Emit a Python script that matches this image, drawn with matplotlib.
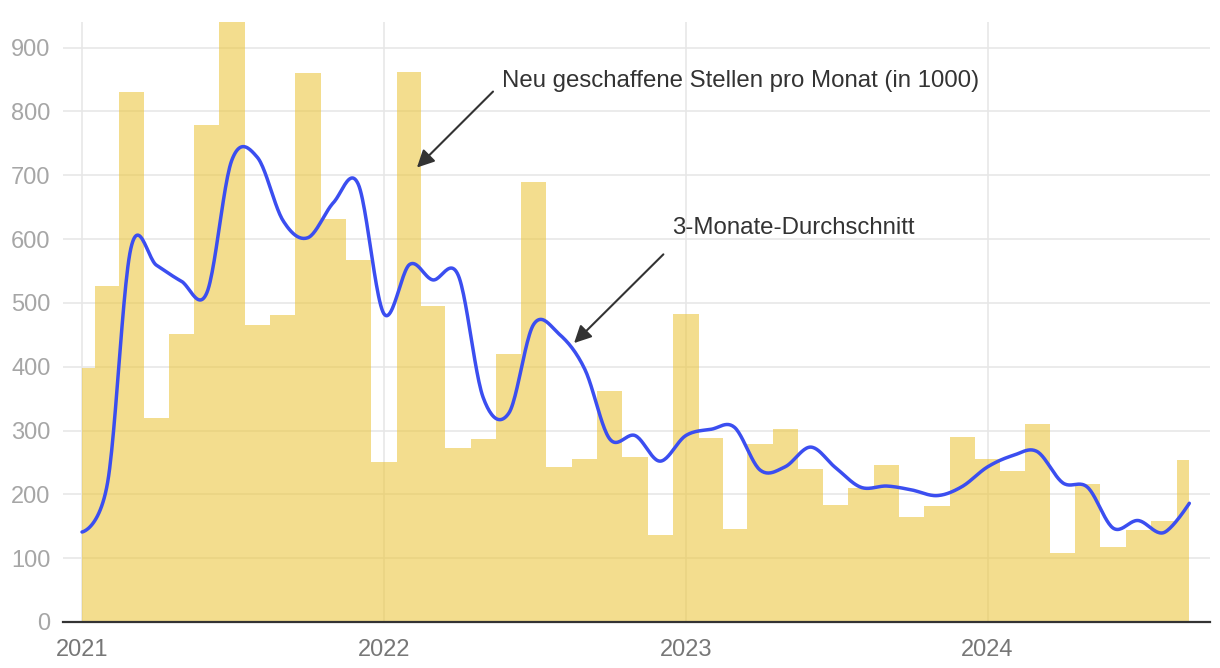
import numpy as np
import pandas as pd
import matplotlib.pyplot as plt
import matplotlib.dates as mdates

plt.rcParams['font.family'] = ['Liberation Sans', 'DejaVu Sans']

# Monatswerte Jan 2021 - Sep 2024 (in 1000)
months = pd.date_range('2021-01-01', '2024-09-01', freq='MS')
jobs = [398, 527, 831, 319, 451, 778, 940, 465, 481, 860, 631, 567,
        251, 862, 495, 273, 287, 420, 690, 243, 256, 362, 258, 136,
        482, 288, 146, 279, 303, 240, 184, 210, 246, 165, 182, 290,
        256, 236, 310, 108, 216, 118, 144, 159, 254]
# 3-Monate-Durchschnitt
avg3 = [141, 219, 585, 559, 534, 516, 723, 728, 629, 602, 657, 686,
        483, 560, 536, 543, 352, 327, 466, 451, 396, 287, 292, 252,
        292, 302, 305, 238, 243, 274, 242, 211, 213, 207, 198, 212,
        243, 261, 267, 218, 211, 147, 159, 140, 186]
years = ['2021', '2022', '2023', '2024']
yticks = [0, 100, 200, 300, 400, 500, 600, 700, 800, 900]


def cardinal(v, steps=24, k=1 / 6):
    # Catmull-Rom-Kurve wie d3.curveCardinal (tension 0), Enden mit Tangente 0
    v = np.asarray(v, float)
    n = len(v)
    t = np.linspace(0, 1, steps, endpoint=False)[:, None]
    out = []
    for i in range(n - 1):
        p0, p3 = v[i], v[i + 1]
        prev = v[i - 1] if i > 0 else v[i + 1]
        nxt = v[i + 2] if i + 2 < n else v[i]
        c1 = p0 + k * (p3 - prev) if i > 0 else p0
        c2 = p3 - k * (nxt - p0) if i + 2 < n else p3
        s = ((1 - t) ** 3 * p0 + 3 * (1 - t) ** 2 * t * c1
             + 3 * (1 - t) * t ** 2 * c2 + t ** 3 * p3)
        out.append(s.ravel())
    out.append([v[-1]])
    return np.concatenate(out)


x = mdates.date2num(months)

fig = plt.figure(figsize=(12.2, 6.68), dpi=100)
ax = fig.add_axes([63 / 1220, 46 / 668, 1147 / 1220, 600 / 668])

ax.fill_between(x, jobs, 0, step='mid', color='#ecc63c', alpha=0.58,
                linewidth=0, zorder=2)
ax.plot(cardinal(x), cardinal(avg3), color='#3b4ef0', lw=2.5,
        solid_capstyle='round', zorder=3)

ax.set_ylim(0, 940)
ax.set_xlim(mdates.date2num(pd.Timestamp('2021-01-01') - pd.Timedelta(days=23)),
            mdates.date2num(pd.Timestamp('2024-01-01') + pd.Timedelta(days=269)))
ax.set_yticks(yticks)
ax.set_xticks(mdates.date2num(pd.to_datetime([y + '-01-01' for y in years])))
ax.set_xticklabels(years)
ax.grid(True, color='#e6e6e6', lw=1.1, zorder=0)
ax.set_axisbelow(True)
for s in ['top', 'right', 'left']:
    ax.spines[s].set_visible(False)
ax.spines['bottom'].set_color('#333333')
ax.spines['bottom'].set_linewidth(1.6)
ax.spines['bottom'].set_zorder(4)
ax.tick_params(axis='y', length=0, pad=9, labelsize=17, labelcolor='#a6a6a6')
ax.tick_params(axis='x', length=0, pad=12, labelsize=17, labelcolor='#777777')

d0 = pd.Timestamp('2022-01-01')
arrow = dict(arrowstyle='-|>', color='#333333', lw=1.5, mutation_scale=26,
             shrinkA=0, shrinkB=0)
ax.annotate('', xy=(mdates.date2num(d0 + pd.Timedelta(days=40)), 712),
            xytext=(mdates.date2num(d0 + pd.Timedelta(days=132)), 831),
            arrowprops=arrow, zorder=5)
ax.text(mdates.date2num(d0 + pd.Timedelta(days=143)), 848,
        'Neu geschaffene Stellen pro Monat (in 1000)', fontsize=17.3,
        color='#333333', va='center', ha='left')
ax.annotate('', xy=(mdates.date2num(d0 + pd.Timedelta(days=230)), 437),
            xytext=(mdates.date2num(d0 + pd.Timedelta(days=338)), 576),
            arrowprops=arrow, zorder=5)
ax.text(mdates.date2num(d0 + pd.Timedelta(days=348)), 617,
        '3-Monate-Durchschnitt', fontsize=17.3, color='#333333',
        va='center', ha='left')

plt.savefig('out.png', dpi=100)
